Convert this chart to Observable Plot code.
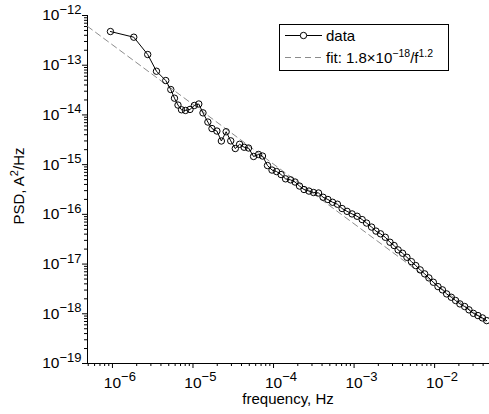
<!DOCTYPE html>
<html><head><meta charset="utf-8">
<script src="https://cdn.jsdelivr.net/npm/d3@7"></script>
<script src="https://cdn.jsdelivr.net/npm/@observablehq/plot@0.6"></script>
<style>
body{margin:0;background:#fff;}
#chart{position:relative;width:489px;height:414px;}
#chart svg{font-family:"Liberation Sans",Arial,sans-serif;}
</style></head><body><div id="chart"></div>
<script>
// frequency (Hz) and PSD (A^2/Hz)
const freq = [9.44e-7, 1.84e-6, 2.74e-6, 3.52e-6, 4.59e-6, 5.30e-6, 5.89e-6, 6.51e-6, 7.20e-6, 8.07e-6,
  9.18e-6, 1.04e-5, 1.18e-5, 1.33e-5, 1.53e-5, 1.72e-5, 1.98e-5, 2.25e-5, 2.58e-5, 2.94e-5,
  3.35e-5, 3.79e-5, 4.31e-5, 4.89e-5, 5.65e-5, 6.52e-5, 7.29e-5, 8.41e-5, 9.57e-5, 1.09e-4,
  1.24e-4, 1.41e-4, 1.63e-4, 1.85e-4, 2.10e-4, 2.39e-4, 2.75e-4, 3.14e-4, 3.62e-4, 4.12e-4,
  4.73e-4, 5.41e-4, 6.21e-4, 7.10e-4, 8.18e-4, 9.44e-4, 1.09e-3, 1.26e-3, 1.43e-3, 1.65e-3,
  1.87e-3, 2.13e-3, 2.44e-3, 2.79e-3, 3.14e-3, 3.52e-3, 4.00e-3, 4.53e-3, 5.15e-3, 5.83e-3,
  6.61e-3, 7.52e-3, 8.49e-3, 9.64e-3, 1.10e-2, 1.25e-2, 1.41e-2, 1.61e-2, 1.82e-2, 2.06e-2,
  2.36e-2, 2.67e-2, 3.03e-2, 3.45e-2, 3.92e-2, 4.43e-2];
const psd = [4.76e-13, 3.66e-13, 1.64e-13, 7.57e-14, 4.92e-14, 3.24e-14, 2.17e-14, 1.58e-14, 1.27e-14, 1.23e-14,
  1.29e-14, 1.55e-14, 1.66e-14, 1.10e-14, 7.19e-15, 5.32e-15, 4.74e-15, 2.99e-15, 4.59e-15, 3.01e-15,
  2.11e-15, 2.57e-15, 2.24e-15, 2.16e-15, 1.46e-15, 1.60e-15, 1.49e-15, 9.60e-16, 7.78e-16, 7.26e-16,
  6.32e-16, 5.18e-16, 4.94e-16, 4.47e-16, 3.71e-16, 3.16e-16, 2.94e-16, 2.75e-16, 2.69e-16, 2.21e-16,
  1.99e-16, 1.75e-16, 1.60e-16, 1.31e-16, 1.15e-16, 1.02e-16, 9.16e-17, 7.85e-17, 6.68e-17, 5.55e-17,
  4.61e-17, 4.06e-17, 3.46e-17, 2.75e-17, 2.36e-17, 1.93e-17, 1.65e-17, 1.37e-17, 1.12e-17, 9.33e-18,
  7.64e-18, 6.35e-18, 5.27e-18, 4.31e-18, 3.52e-18, 3.03e-18, 2.51e-18, 2.15e-18, 1.85e-18, 1.58e-18,
  1.40e-18, 1.20e-18, 1.02e-18, 9.20e-19, 8.26e-19, 7.29e-19];
// dashed fit line end points (straight in log-log)
const fitFreq = [4.9e-7, 0.048];
const fitPsd = [6.05e-13, 6.2e-19];
// axes
const xDomain = [4.9e-7, 0.048];
const yDomain = [1e-19, 1e-12];
const xTicks = [1e-6, 1e-5, 1e-4, 1e-3, 1e-2];
const yTicks = [1e-19, 1e-18, 1e-17, 1e-16, 1e-15, 1e-14, 1e-13, 1e-12];
const xLabel = "frequency, Hz";
const yLabelParts = ["PSD, A", "2", "/Hz"];
const legendData = "data";
const legendFitParts = ["fit: 1.8\u00d710", "\u221218", "/f", "1.2"];

const data = freq.map((f, i) => ({f, p: psd[i]}));
const fitData = fitFreq.map((f, i) => ({f, p: fitPsd[i]}));

function minorTicks(domain) {
  const out = [];
  const lo = Math.floor(Math.log10(domain[0])), hi = Math.ceil(Math.log10(domain[1]));
  for (let e = lo; e <= hi; e++) for (let m = 2; m <= 9; m++) {
    const v = m * Math.pow(10, e);
    if (v >= domain[0] && v <= domain[1]) out.push(v);
  }
  return out;
}
const supFmt = d => "10^" + Math.round(Math.log10(d));

const plot = Plot.plot({
  width: 489, height: 414,
  marginLeft: 87, marginRight: 0, marginTop: 15, marginBottom: 51,
  style: {fontFamily: '"Liberation Sans", Arial, sans-serif', fontSize: "15px", background: "white", overflow: "visible", color: "black"},
  x: {type: "log", domain: xDomain},
  y: {type: "log", domain: yDomain},
  marks: [
    Plot.axisY(minorTicks(yDomain), {tickSize: 3, tickFormat: () => "", label: null}),
    Plot.axisY(yTicks, {tickSize: 5, tickPadding: 1, tickFormat: supFmt, label: null, fontSize: 15}),
    Plot.axisX(minorTicks(xDomain), {tickSize: 3, tickFormat: () => "", label: null}),
    Plot.axisX(xTicks, {tickSize: 5, tickPadding: 8, tickFormat: supFmt, label: null, fontSize: 15}),
    Plot.ruleX([xDomain[0]], {stroke: "black"}),
    Plot.ruleY([yDomain[0]], {stroke: "black"}),
    Plot.line(fitData, {x: "f", y: "p", stroke: "#8c8c8c", strokeWidth: 1, strokeDasharray: "6,4"}),
    Plot.line(data, {x: "f", y: "p", stroke: "black", strokeWidth: 1}),
    Plot.dot(data, {x: "f", y: "p", r: 3.2, stroke: "black", fill: "none", strokeWidth: 1})
  ]
});
document.getElementById("chart").appendChild(plot);

const svg = d3.select(plot);
function supify(el, isX) {
  const s = el.textContent;
  const m = s.match(/^10\^(.+)$/);
  if (!m) return;
  el.textContent = "";
  const t = d3.select(el).style("font-size", "15.5px");
  const base = t.append("tspan").text("10");
  t.append("tspan").attr("dy", -6.5).style("font-size", "13px").text(m[1].replace("-", "\u2212"));
  if (isX) {
    const w = base.node().getComputedTextLength();
    t.attr("text-anchor", "start");
    base.attr("dx", -w / 2);
  }
}
svg.selectAll('g[aria-label="x-axis tick label"] text').each(function() { supify(this, true); });
svg.selectAll('g[aria-label="y-axis tick label"] text').each(function() { supify(this, false); });

// axis titles
svg.append("text").attr("x", 288).attr("y", 404).attr("text-anchor", "middle")
  .style("font-size", "15px").attr("fill", "black").text(xLabel);
const yl = svg.append("text").attr("transform", "translate(24,186) rotate(-90)").attr("text-anchor", "middle")
  .style("font-size", "15px").attr("fill", "black");
yl.append("tspan").text(yLabelParts[0]);
yl.append("tspan").attr("dy", -6).style("font-size", "11px").text(yLabelParts[1]);
yl.append("tspan").attr("dy", 6).text(yLabelParts[2]);

// legend
const lg = svg.append("g").style("font-size", "15px").attr("text-anchor", "start");
lg.append("rect").attr("x", 279.5).attr("y", 24.5).attr("width", 169).attr("height", 46)
  .attr("fill", "white").attr("stroke", "black").attr("stroke-width", 1);
lg.append("line").attr("x1", 285).attr("x2", 322).attr("y1", 35.5).attr("y2", 35.5).attr("stroke", "black");
lg.append("circle").attr("cx", 303.5).attr("cy", 35.5).attr("r", 3.2).attr("fill", "white").attr("stroke", "black");
lg.append("text").attr("x", 326).attr("y", 41).attr("text-anchor", "start").attr("fill", "black").text(legendData);
lg.append("line").attr("x1", 285).attr("x2", 322).attr("y1", 57.5).attr("y2", 57.5)
  .attr("stroke", "#8c8c8c").attr("stroke-dasharray", "6,4");
const ft = lg.append("text").attr("x", 326).attr("y", 63).attr("text-anchor", "start").attr("fill", "black");
ft.append("tspan").text(legendFitParts[0]);
ft.append("tspan").attr("dy", -6).style("font-size", "10.5px").text(legendFitParts[1]);
ft.append("tspan").attr("dy", 6).text(legendFitParts[2]);
ft.append("tspan").attr("dy", -6).style("font-size", "10.5px").text(legendFitParts[3]);
</script>
</body></html>
